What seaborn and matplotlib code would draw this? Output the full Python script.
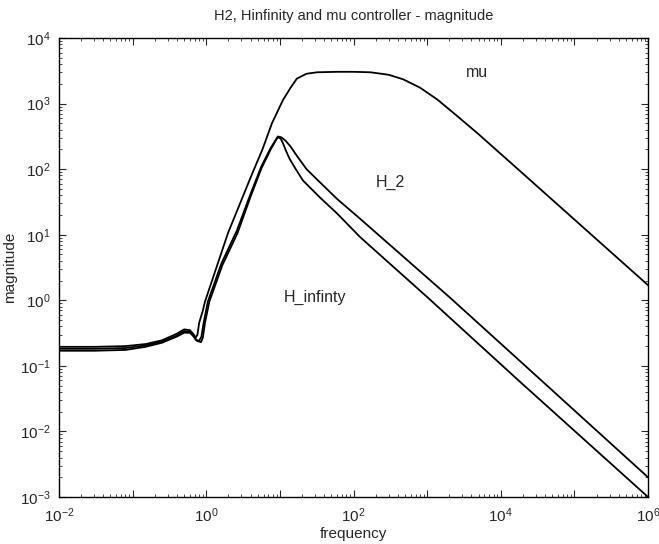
import numpy as np
import pandas as pd
import matplotlib
matplotlib.use("Agg")
import matplotlib.pyplot as plt
import matplotlib.ticker as mticker
import seaborn as sns

# ---- data ----
mu_freq = [0.01, 0.03, 0.08, 0.15, 0.25, 0.4, 0.5, 0.6, 0.66, 0.72, 0.76, 0.8, 0.9, 0.96,
           1.98, 4.2, 5.8, 7.8, 11, 14, 17, 23, 32, 60, 100, 170, 300, 470, 800, 1380,
           2500, 4800, 18000, 79000, 1e6]
mu_mag = [0.195, 0.195, 0.2, 0.215, 0.245, 0.31, 0.36, 0.35, 0.31, 0.27, 0.3, 0.45, 0.7, 0.95,
          10.7, 85, 200, 500, 1130, 1750, 2400, 2850, 3000, 3050, 3050, 3000, 2750, 2350, 1750, 1150,
          660, 355, 95, 21.6, 1.7]

h2_freq = [0.01, 0.03, 0.08, 0.15, 0.25, 0.4, 0.5, 0.6, 0.66, 0.72, 0.8, 0.86, 0.92, 1.05,
           1.6, 2.6, 4.0, 5.6, 7.5, 9.4, 10.5, 12, 14, 17, 23, 35, 60, 123, 2040, 18000, 1e6]
h2_mag = [0.182, 0.182, 0.187, 0.205, 0.235, 0.29, 0.34, 0.33, 0.29, 0.25, 0.24, 0.28, 0.45, 0.95,
          3.6, 11.5, 42, 110, 210, 315, 305, 270, 220, 160, 100, 63, 35, 17.5, 1.1, 0.12, 0.002]

hinf_freq = [0.01, 0.03, 0.08, 0.15, 0.25, 0.4, 0.5, 0.6, 0.68, 0.75, 0.85, 0.9, 0.96, 1.1,
             1.65, 2.65, 4.0, 5.6, 7.5, 9.3, 10.2, 11, 12, 13.5, 16, 20.6, 35, 60, 123, 1020,
             18000, 1e6]
hinf_mag = [0.17, 0.17, 0.175, 0.195, 0.225, 0.28, 0.32, 0.32, 0.28, 0.24, 0.23, 0.27, 0.45, 0.95,
            3.4, 10.5, 38, 102, 200, 305, 295, 250, 195, 145, 105, 67, 37, 21, 9.2, 1.1,
            0.058, 0.001]

series_names = ["mu", "H_2", "H_infinty"]
label_freq = [4800, 320, 30]
label_mag = [3000, 62, 1.1]

title = "H2, Hinfinity and mu controller - magnitude"
x_label = "frequency"
y_label = "magnitude"

df = pd.concat([
    pd.DataFrame({"freq": mu_freq, "mag": mu_mag, "ctrl": "mu"}),
    pd.DataFrame({"freq": h2_freq, "mag": h2_mag, "ctrl": "H_2"}),
    pd.DataFrame({"freq": hinf_freq, "mag": hinf_mag, "ctrl": "H_infinty"}),
], ignore_index=True)

sns.set_style("ticks")
plt.rcParams["font.family"] = ["Liberation Sans", "DejaVu Sans"]
plt.rcParams["mathtext.fontset"] = "custom"
plt.rcParams["mathtext.rm"] = "Liberation Sans"
plt.rcParams["font.size"] = 10

fig = plt.figure(figsize=(6.59, 5.44), dpi=100)
ax = fig.add_axes([59 / 659, 1 - 497 / 544, (648 - 59) / 659, (497 - 38) / 544])

sns.lineplot(data=df, x="freq", y="mag", hue="ctrl", units="ctrl", estimator=None,
             sort=False, palette={"mu": "black", "H_2": "black", "H_infinty": "black"},
             linewidth=1.3, legend=False, ax=ax)

ax.set_xscale("log")
ax.set_yscale("log")
ax.set_xlim(1e-2, 1e6)
ax.set_ylim(1e-3, 1e4)

ax.xaxis.set_major_locator(mticker.FixedLocator([10.0 ** k for k in range(-2, 7)]))
ax.xaxis.set_major_formatter(mticker.FuncFormatter(
    lambda v, p: (r"$\mathrm{10^{%d}}$" % round(np.log10(v))) if round(np.log10(v)) % 2 == 0 else ""))
ax.xaxis.set_minor_locator(mticker.LogLocator(base=10, subs=np.arange(2, 10), numticks=100))
ax.xaxis.set_minor_formatter(mticker.NullFormatter())
ax.yaxis.set_major_locator(mticker.FixedLocator([10.0 ** k for k in range(-3, 5)]))
ax.yaxis.set_major_formatter(mticker.FuncFormatter(
    lambda v, p: r"$\mathrm{10^{%d}}$" % round(np.log10(v))))
ax.yaxis.set_minor_locator(mticker.LogLocator(base=10, subs=np.arange(2, 10), numticks=100))
ax.yaxis.set_minor_formatter(mticker.NullFormatter())

ax.tick_params(which="both", direction="in", top=True, right=True, labelsize=11)
ax.tick_params(which="major", length=5, width=0.8)
ax.tick_params(which="minor", length=2.5, width=0.6)
ax.tick_params(axis="x", which="major", pad=7)
ax.tick_params(axis="y", which="major", pad=6)
for s in ax.spines.values():
    s.set_linewidth(1.0)
    s.set_color("black")

for name, fx, my in zip(series_names, label_freq, label_mag):
    ax.text(fx, my, name, ha="center", va="center", fontsize=11.5)

ax.set_title(title, fontsize=10.5, pad=13)
ax.set_xlabel(x_label, fontsize=11, labelpad=1)
ax.set_ylabel(y_label, fontsize=11, labelpad=2)

fig.savefig("out.png", dpi=100)
